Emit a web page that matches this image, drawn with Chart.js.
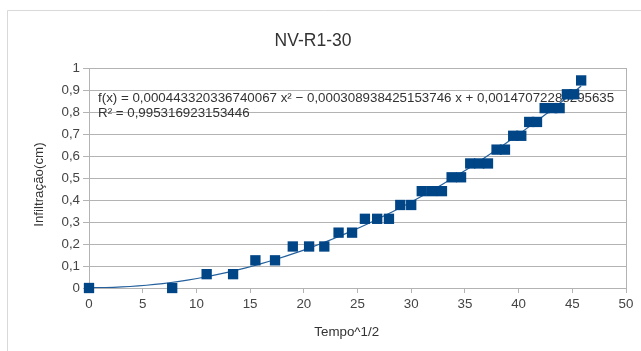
<!DOCTYPE html>
<html>
<head>
<meta charset="utf-8">
<script src="https://cdn.jsdelivr.net/npm/chart.js@4/dist/chart.umd.min.js"></script>
<style>
  html, body { margin: 0; padding: 0; background: #fff; }
  #wrap { width: 641px; height: 351px; position: relative; }
</style>
</head>
<body>
<div id="wrap"><canvas id="c" width="641" height="351"></canvas></div>
<script>
// Tempo^1/2 (raiz do tempo) e infiltração acumulada (cm)
const tempoRaiz = [0, 7.746, 10.954, 13.416, 15.492, 17.321, 18.974, 20.494, 21.909, 23.238,
  24.495, 25.690, 26.833, 27.928, 28.983, 30.000, 30.984, 31.937, 32.863, 33.764,
  34.641, 35.496, 36.332, 37.148, 37.947, 38.730, 39.497, 40.249, 40.988, 41.713,
  42.426, 43.128, 43.818, 44.497, 45.166, 45.826];
const infiltracao = [0, 0, 0.0629, 0.0629, 0.1258, 0.1258, 0.1887, 0.1887, 0.1887, 0.2516,
  0.2516, 0.3145, 0.3145, 0.3145, 0.3774, 0.3774, 0.4403, 0.4403, 0.4403, 0.5032,
  0.5032, 0.5661, 0.5661, 0.5661, 0.629, 0.629, 0.6919, 0.6919, 0.7548, 0.7548,
  0.8177, 0.8177, 0.8177, 0.8806, 0.8806, 0.9435];

// Linha de tendência polinomial (ordem 2), conforme a equação exibida
const coefA = 0.000443320336740067;
const coefB = -0.000308938425153746;
const coefC = 0.00147072288295635;
const textoEquacao = 'f(x) = 0,000443320336740067 x² − 0,000308938425153746 x + 0,00147072288295635';
const textoR2 = 'R² = 0,995316923153446';

const titulo = 'NV-R1-30';
const tituloX = 'Tempo^1/2';
const tituloY = 'Infiltração(cm)';
const xTicks = [0, 5, 10, 15, 20, 25, 30, 35, 40, 45, 50];
const yTicks = [0, 0.1, 0.2, 0.3, 0.4, 0.5, 0.6, 0.7, 0.8, 0.9, 1];

const FONTE = '"Liberation Sans", Arial, sans-serif';

const curva = [];
const xFim = tempoRaiz[tempoRaiz.length - 1];
for (let i = 0; i <= 60; i++) {
  const x = xFim * i / 60;
  curva.push({ x: x, y: coefA * x * x + coefB * x + coefC });
}

const pontos = tempoRaiz.map((x, i) => ({ x: x, y: infiltracao[i] }));
const fmt = v => String(Math.round(v * 10) / 10).replace('.', ',');

// Moldura do gráfico, títulos dos eixos e texto da equação
const moldura = {
  id: 'moldura',
  beforeDraw(chart) {
    const ctx = chart.ctx;
    ctx.save();
    ctx.fillStyle = '#fff';
    ctx.fillRect(0, 0, chart.width, chart.height);
    ctx.strokeStyle = '#d9d9d9';
    ctx.lineWidth = 1;
    ctx.beginPath();
    ctx.moveTo(7.5, chart.height);
    ctx.lineTo(7.5, 10.5);
    ctx.lineTo(chart.width, 10.5);
    ctx.stroke();
    ctx.restore();
  },
  beforeDatasetsDraw(chart) {
    const ctx = chart.ctx;
    const a = chart.chartArea;
    ctx.save();
    ctx.fillStyle = '#333';
    ctx.font = '13.33px ' + FONTE;
    ctx.textBaseline = 'middle';
    ctx.textAlign = 'left';
    ctx.fillText(textoEquacao, a.left + 9, a.top + 30);
    ctx.fillText(textoR2, a.left + 9, a.top + 45);

    ctx.font = '13.33px ' + FONTE;
    ctx.textAlign = 'center';
    ctx.fillText(tituloX, a.left + (a.right - a.left) * 0.48, 332);
    ctx.translate(39, a.top + (a.bottom - a.top) * 0.53);
    ctx.rotate(-Math.PI / 2);
    ctx.fillText(tituloY, 0, 0);
    ctx.restore();
  }
};

new Chart(document.getElementById('c'), {
  type: 'scatter',
  data: {
    datasets: [
      {
        label: 'Infiltração',
        data: pontos,
        pointStyle: 'rect',
        pointRadius: 7.3,
        pointHoverRadius: 7.3,
        backgroundColor: '#004586',
        borderColor: '#004586',
        borderWidth: 0,
        clip: false,
        order: 0
      },
      {
        type: 'line',
        label: 'Tendência',
        data: curva,
        borderColor: '#24609c',
        borderWidth: 1.2,
        pointRadius: 0,
        tension: 0,
        fill: false,
        order: 1
      }
    ]
  },
  options: {
    responsive: false,
    animation: false,
    devicePixelRatio: 1,
    layout: { padding: { left: 0, right: 15, top: 0, bottom: 0 } },
    plugins: {
      legend: { display: false },
      tooltip: { enabled: false },
      title: {
        display: true,
        text: titulo,
        color: '#333',
        font: { family: FONTE, size: 17.5, weight: 'normal' },
        padding: { top: 31, bottom: 16 }
      }
    },
    scales: {
      x: {
        type: 'linear',
        min: 0, max: 50,
        afterBuildTicks(s) { s.ticks = xTicks.map(v => ({ value: v })); },
        afterFit(s) { s.height = 63; },
        ticks: {
          color: '#444',
          font: { family: FONTE, size: 13.33 },
          padding: 3,
          maxRotation: 0,
          autoSkip: false
        },
        grid: {
          color: c => (c.tick && c.tick.value === 50) ? '#b3b3b3' : 'rgba(0,0,0,0)',
          tickColor: '#b3b3b3',
          tickLength: 5,
          drawOnChartArea: true
        },
        border: { display: true, color: '#b3b3b3' }
      },
      y: {
        type: 'linear',
        min: 0, max: 1,
        afterBuildTicks(s) { s.ticks = yTicks.map(v => ({ value: v })); },
        afterFit(s) { s.width = 89; },
        ticks: {
          color: '#444',
          font: { family: FONTE, size: 13.33 },
          padding: 3,
          callback: v => fmt(v)
        },
        grid: { color: '#b3b3b3', tickColor: '#b3b3b3', tickLength: 6 },
        border: { display: true, color: '#b3b3b3' }
      }
    }
  },
  plugins: [moldura]
});
</script>
</body>
</html>
